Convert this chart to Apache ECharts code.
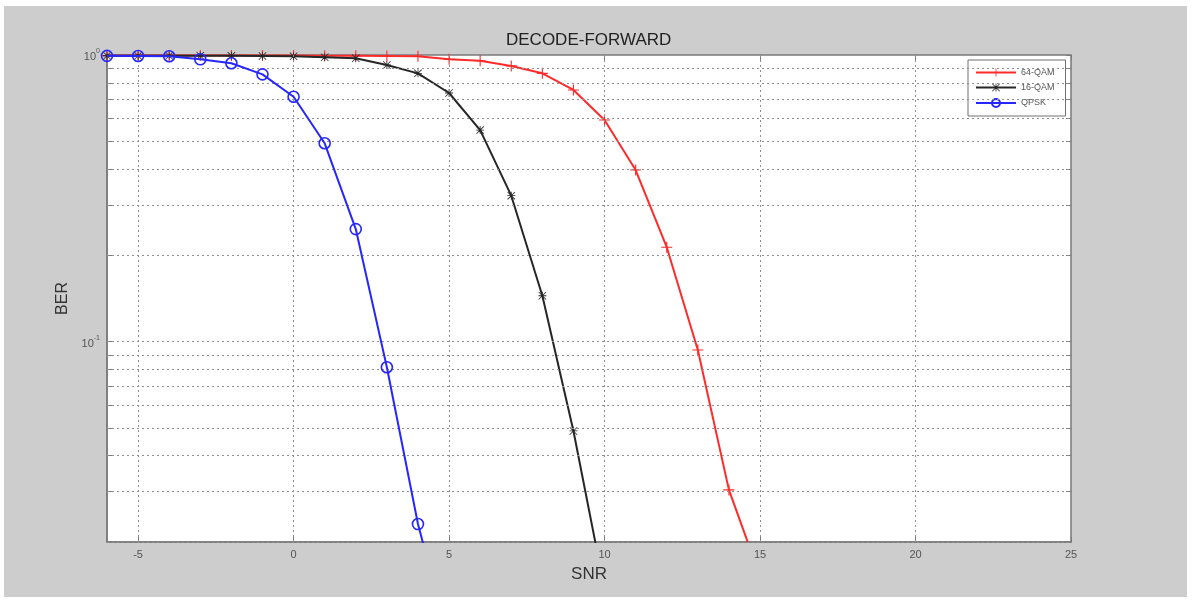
<!DOCTYPE html>
<html>
<head>
<meta charset="utf-8">
<script src="https://cdn.jsdelivr.net/npm/echarts@6/dist/echarts.min.js"></script>
<style>
html,body{margin:0;padding:0;background:#fff;}
#chart{width:1192px;height:601px;}
</style>
</head>
<body>
<div id="chart"></div>
<script>
// ---- data ----
const snr = [-6,-5,-4,-3,-2,-1,0,1,2,3,4,5,6,7,8,9,10,11,12,13,14,15];
const ber64QAM = [0.995,0.995,0.995,0.995,0.995,0.995,0.995,0.994,0.993,0.992,0.99,0.966,0.955,0.916,0.863,0.755,0.593,0.397,0.2135,0.0935,0.0304,0.0152];
const ber16QAM = [0.994,0.994,0.994,0.994,0.993,0.992,0.99,0.982,0.974,0.923,0.863,0.737,0.547,0.323,0.1446,0.0488,0.0137];
const berQPSK  = [0.993,0.992,0.99,0.966,0.936,0.856,0.715,0.492,0.247,0.0814,0.0231,0.009];
const seriesNames = ['64-QAM','16-QAM','QPSK'];
const xTickValues = [-5,0,5,10,15,20,25];
const xGridValues = [-5,0,5,10,15,20];
const yGridValues = [0.02,0.03,0.04,0.05,0.06,0.07,0.08,0.09,0.1,0.2,0.3,0.4,0.5,0.6,0.7,0.8,0.9];
const yTickValues = [0.03,0.04,0.05,0.06,0.07,0.08,0.09,0.1,0.2,0.3,0.4,0.5,0.6,0.7,0.8,0.9,1];

const pair = arr => arr.map((v,i)=>[snr[i], v]);

const plusPath = 'path://M9,0H11V9H20V11H11V20H9V11H0V9H9Z';
const starPath = 'path://M9,0H11V9H20V11H11V20H9V11H0V9H9Z M0,1.4L1.4,0L20,18.6L18.6,20Z M18.6,0L20,1.4L1.4,20L0,18.6Z';

const gridLine = {type:[2,3], color:'#8f8f8f', width:1};
const markData = [
  ...xGridValues.map(v=>({xAxis:v})),
  ...yGridValues.map(v=>({yAxis:v}))
];

const chart = echarts.init(document.getElementById('chart'), null, {renderer:'canvas'});
const fontFam = '"Liberation Sans", Arial, sans-serif';

const yLabelFmt = function(v){
  if (Math.abs(v-1) < 1e-6) return '{b|10}{s|0}';
  if (Math.abs(v-0.1) < 1e-6) return '{b|10}{s|-1}';
  return '';
};
const yRich = {
  b:{fontSize:11, color:'#555', fontFamily:fontFam, verticalAlign:'bottom', lineHeight:15},
  s:{fontSize:7, color:'#555', fontFamily:fontFam, verticalAlign:'top', lineHeight:15}
};

const option = {
  animation:false,
  backgroundColor:'#ffffff',
  graphic:[{type:'rect', shape:{x:4,y:6,width:1183,height:591}, style:{fill:'#cdcdcd'}, z:-100, silent:true}],
  title:{
    text:'DECODE-FORWARD', left:501, top:27,
    textStyle:{fontSize:17, fontWeight:'normal', color:'#222', fontFamily:fontFam}
  },
  legend:{
    data:seriesNames, orient:'vertical', left:968, top:60,
    itemWidth:40, itemHeight:10, itemGap:6,
    padding:[8,11,8,7],
    backgroundColor:'#ffffff', borderColor:'#707070', borderWidth:1,
    textStyle:{fontSize:9, color:'#555', fontFamily:fontFam}
  },
  grid:{left:107, top:55, right:121, bottom:59, show:true, backgroundColor:'#ffffff', borderColor:'#7a7a7a', borderWidth:1.5, containLabel:false},
  xAxis:[{
    type:'value', min:-6, max:25, position:'bottom',
    name:'SNR', nameLocation:'middle', nameGap:24,
    nameTextStyle:{fontSize:17, color:'#333', fontFamily:fontFam},
    axisLine:{show:true, onZero:false, lineStyle:{color:'#7a7a7a', width:1.5}},
    axisTick:{show:true, inside:true, length:5, customValues:xTickValues, lineStyle:{color:'#7a7a7a'}},
    axisLabel:{customValues:xTickValues, fontSize:11, color:'#555', margin:7, fontFamily:fontFam},
    splitLine:{show:false}
  },{
    type:'value', min:-6, max:25, position:'top',
    axisLine:{show:false, onZero:false},
    axisTick:{show:true, inside:true, length:5, customValues:xTickValues, lineStyle:{color:'#7a7a7a'}},
    axisLabel:{show:false}, splitLine:{show:false}
  }],
  yAxis:[{
    type:'log', logBase:10, min:0.02, max:1, position:'left',
    name:'BER', nameLocation:'middle', nameGap:36,
    nameTextStyle:{fontSize:16, color:'#333', fontFamily:fontFam},
    axisLine:{show:true, onZero:false, lineStyle:{color:'#7a7a7a', width:1.5}},
    axisTick:{show:true, inside:true, length:5, customValues:yTickValues, lineStyle:{color:'#7a7a7a'}},
    axisLabel:{formatter:yLabelFmt, rich:yRich, margin:7},
    splitLine:{show:false}, minorTick:{show:false}
  },{
    type:'log', logBase:10, min:0.02, max:1, position:'right',
    axisLine:{show:false, onZero:false},
    axisTick:{show:true, inside:true, length:5, customValues:yTickValues, lineStyle:{color:'#7a7a7a'}},
    axisLabel:{show:false}, splitLine:{show:false}
  }],
  series:[
    {
      name:'grid', type:'line', data:[], silent:true, z:1,
      markLine:{silent:true, symbol:['none','none'], label:{show:false}, lineStyle:gridLine, emphasis:{disabled:true}, data:markData, animation:false}
    },
    {
      name:seriesNames[0], type:'line', data:pair(ber64QAM), z:3,
      symbol:plusPath, symbolSize:11, showSymbol:true,
      lineStyle:{color:'#ff2a2a', width:2},
      itemStyle:{color:'#ff2a2a'}
    },
    {
      name:seriesNames[1], type:'line', data:pair(ber16QAM), z:4,
      symbol:starPath, symbolSize:8,
      lineStyle:{color:'#262626', width:2},
      itemStyle:{color:'#262626'}
    },
    {
      name:seriesNames[2], type:'line', data:pair(berQPSK), z:5,
      symbol:'circle', symbolSize:11,
      lineStyle:{color:'#2626ff', width:2},
      itemStyle:{color:'rgba(255,255,255,0)', borderColor:'#2626ff', borderWidth:1.6}
    }
  ]
};
chart.setOption(option);
</script>
</body>
</html>
